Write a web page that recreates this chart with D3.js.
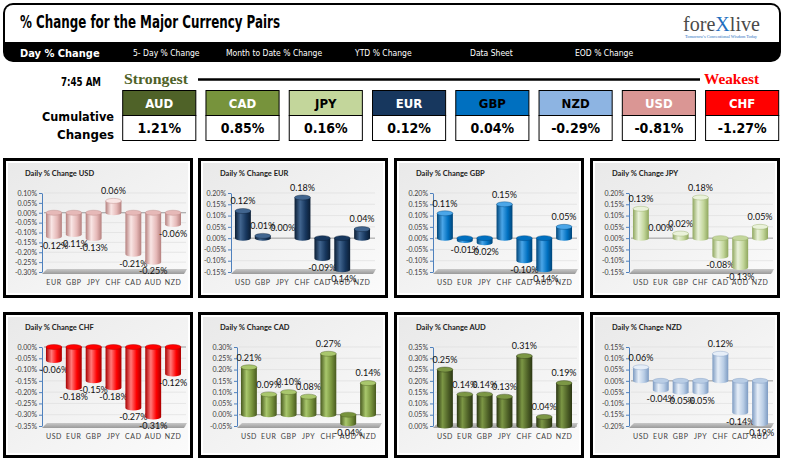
<!DOCTYPE html>
<html>
<head>
<meta charset="utf-8">
<script src="https://cdn.jsdelivr.net/npm/d3@7"></script>
<style>
  body { margin: 0; background: #fff; }
</style>
</head>
<body>
<div id="chart"></div>
<script>
// ---- data ----
const navLabels = ["Day % Change", "5- Day % Change", "Month to Date % Change", "YTD % Change", "Data Sheet", "EOD % Change"];
const navX = [20, 133, 226, 355, 470, 575];

const rankCurrencies = ["AUD", "CAD", "JPY", "EUR", "GBP", "NZD", "USD", "CHF"];
const rankValues = [1.21, 0.85, 0.16, 0.12, 0.04, -0.29, -0.81, -1.27];

const allCurrencies = ["USD", "EUR", "GBP", "JPY", "CHF", "CAD", "AUD", "NZD"];
const panelCurrencies = ["USD", "EUR", "GBP", "JPY", "CHF", "CAD", "AUD", "NZD"];

const usdChange = [-0.12, -0.11, -0.13, 0.06, -0.21, -0.25, -0.06];
const eurChange = [0.12, 0.01, 0.00, 0.18, -0.09, -0.14, 0.04];
const gbpChange = [0.11, -0.01, -0.02, 0.15, -0.10, -0.14, 0.05];
const jpyChange = [0.13, 0.00, 0.02, 0.18, -0.08, -0.13, 0.05];
const chfChange = [-0.06, -0.18, -0.15, -0.18, -0.27, -0.31, -0.12];
const cadChange = [0.21, 0.09, 0.10, 0.08, 0.27, -0.04, 0.14];
const audChange = [0.25, 0.14, 0.14, 0.13, 0.31, 0.04, 0.19];
const nzdChange = [0.06, -0.04, -0.05, -0.05, 0.12, -0.14, -0.19];
const panelValues = [usdChange, eurChange, gbpChange, jpyChange, chfChange, cadChange, audChange, nzdChange];

// axis extents (percent) for each panel
const axisMin = [-0.30, -0.15, -0.15, -0.15, -0.35, -0.05, 0.00, -0.20];
const axisMax = [0.10, 0.20, 0.20, 0.20, 0.00, 0.30, 0.35, 0.15];

// ---- styles ----
const headFill = ["#4f6228", "#77933c", "#c3d69b", "#17375e", "#0070c0", "#8db4e2", "#da9694", "#ff0000"];
const headText = ["#fff", "#fff", "#000", "#fff", "#000", "#000", "#fff", "#fff"];
// base, light, dark
const barColors = [
  ["#e6b9b8", "#f9e6e5", "#b5807e"],
  ["#17375e", "#41658f", "#0b1d33"],
  ["#0070c0", "#4ba6e8", "#004578"],
  ["#c3d69b", "#eaf2da", "#8fa75e"],
  ["#ff0000", "#ff7a7a", "#a80000"],
  ["#77933c", "#a9c76d", "#48591f"],
  ["#4f6228", "#7c9745", "#2b3613"],
  ["#b9cde5", "#e6eef8", "#7d9bc2"]
];

const condensed = "'Liberation Sans Narrow', 'DejaVu Sans Condensed', 'DejaVu Sans', sans-serif";
const panelFont = "Lato, 'Open Sans', sans-serif";

// plain hyphen for negatives, like the source sheet
const pctFmt = v => v.toFixed(2);

const svg = d3.select("#chart")
  .append("svg")
  .attr("width", 785)
  .attr("height", 462);

const defs = svg.append("defs");

// ---- header frame ----
svg.append("rect")
  .attr("x", 3).attr("y", 3).attr("width", 778).attr("height", 59)
  .attr("rx", 10).attr("fill", "#000");
svg.append("rect")
  .attr("x", 5).attr("y", 5).attr("width", 774).attr("height", 45)
  .attr("rx", 8).attr("fill", "#fff");
svg.append("rect")
  .attr("x", 5).attr("y", 42).attr("width", 774).attr("height", 10)
  .attr("fill", "#000");

svg.append("text")
  .attr("x", 20).attr("y", 28)
  .attr("textLength", 260).attr("lengthAdjust", "spacingAndGlyphs")
  .style("font-family", condensed).style("font-weight", "bold").style("font-size", "18px")
  .text("% Change for the Major Currency Pairs");

// logo
const logo = svg.append("text")
  .attr("x", 683).attr("y", 31)
  .attr("textLength", 77).attr("lengthAdjust", "spacingAndGlyphs")
  .style("font-family", "'Liberation Serif', 'DejaVu Serif', serif").style("font-size", "22px")
  .attr("fill", "#4a4a4a");
logo.append("tspan").text("fore");
logo.append("tspan").attr("fill", "#1f6fc0").text("X");
logo.append("tspan").text("live");
svg.append("text")
  .attr("x", 685).attr("y", 38)
  .attr("textLength", 72).attr("lengthAdjust", "spacingAndGlyphs")
  .style("font-family", "'Liberation Serif', serif").style("font-size", "4px")
  .attr("fill", "#1f6fc0")
  .text("Tomorrow's Conventional Wisdom Today");

// nav bar labels
navLabels.forEach((label, i) => {
  svg.append("text")
    .attr("x", navX[i]).attr("y", i === 0 ? 57 : 56)
    .attr("fill", "#fff")
    .style("font-family", condensed)
    .style("font-size", i === 0 ? "11px" : "8.5px")
    .style("font-weight", i === 0 ? "bold" : "normal")
    .style("font-stretch", "condensed")
    .text(label);
});

// ---- strongest / weakest row ----
svg.append("text")
  .attr("x", 61).attr("y", 86)
  .attr("textLength", 40).attr("lengthAdjust", "spacingAndGlyphs")
  .style("font-family", condensed).style("font-weight", "bold").style("font-size", "13px")
  .text("7:45 AM");

svg.append("text")
  .attr("x", 124).attr("y", 84)
  .attr("textLength", 64).attr("lengthAdjust", "spacingAndGlyphs")
  .style("font-family", "'Liberation Serif', 'DejaVu Serif', serif").style("font-weight", "bold").style("font-size", "14px")
  .attr("fill", "#4f6228")
  .text("Strongest");

svg.append("text")
  .attr("x", 704).attr("y", 84)
  .attr("textLength", 55).attr("lengthAdjust", "spacingAndGlyphs")
  .style("font-family", "'Liberation Serif', 'DejaVu Serif', serif").style("font-weight", "bold").style("font-size", "14px")
  .attr("fill", "#ff0000")
  .text("Weakest");

svg.append("line")
  .attr("x1", 198).attr("x2", 700)
  .attr("y1", 79.5).attr("y2", 79.5)
  .attr("stroke", "#000").attr("stroke-width", 2.5);

svg.append("text")
  .attr("x", 114).attr("y", 121)
  .attr("text-anchor", "end")
  .attr("textLength", 72).attr("lengthAdjust", "spacingAndGlyphs")
  .style("font-family", "'DejaVu Sans', sans-serif").style("font-weight", "bold").style("font-size", "12px")
  .text("Cumulative");
svg.append("text")
  .attr("x", 114).attr("y", 139)
  .attr("text-anchor", "end")
  .attr("textLength", 57).attr("lengthAdjust", "spacingAndGlyphs")
  .style("font-family", "'DejaVu Sans', sans-serif").style("font-weight", "bold").style("font-size", "12px")
  .text("Changes");

const rankX = d3.scaleBand()
  .domain(rankCurrencies)
  .range([122.7, 122.7 + 82 * 8])
  .paddingInner(10 / 82)
  .paddingOuter(0);

rankCurrencies.forEach((cur, i) => {
  const x = rankX(cur), w = rankX.bandwidth();
  svg.append("rect")
    .attr("x", x).attr("y", 90.5).attr("width", w).attr("height", 25)
    .attr("fill", headFill[i]).attr("stroke", "#000").attr("stroke-width", 1);
  svg.append("rect")
    .attr("x", x).attr("y", 115.5).attr("width", w).attr("height", 25)
    .attr("fill", "#fff").attr("stroke", "#000").attr("stroke-width", 1);
  svg.append("text")
    .attr("x", x + w / 2).attr("y", 108)
    .attr("text-anchor", "middle")
    .attr("fill", headText[i])
    .style("font-family", condensed).style("font-weight", "bold").style("font-size", "13px")
    .style("font-stretch", "condensed")
    .text(cur);
  svg.append("text")
    .attr("x", x + w / 2).attr("y", 133)
    .attr("text-anchor", "middle")
    .style("font-family", condensed).style("font-weight", "bold").style("font-size", "14px")
    .style("font-stretch", "condensed")
    .text(pctFmt(rankValues[i]) + "%");
});

// ---- daily change panels ----
const panelX = [3, 198, 394, 590];
const panelY = [158, 312];
const panelH = [140, 146];
const panelW = 190;
const panelShift = [0, -6, 0, 0, 0, 0, 0, 0];

const bgGrad = defs.append("linearGradient")
  .attr("id", "panelBg").attr("x1", 0).attr("y1", 0).attr("x2", 1).attr("y2", 1);
bgGrad.append("stop").attr("offset", "0%").attr("stop-color", "#e9e9e9");
bgGrad.append("stop").attr("offset", "100%").attr("stop-color", "#fbfbfb");

const floorGrad = defs.append("linearGradient")
  .attr("id", "floorGrad").attr("x1", 0).attr("y1", 0).attr("x2", 0).attr("y2", 1);
floorGrad.append("stop").attr("offset", "0%").attr("stop-color", "#c8c8c8");
floorGrad.append("stop").attr("offset", "100%").attr("stop-color", "#9a9a9a");

panelCurrencies.forEach((name, p) => {
  const col = p % 4, row = Math.floor(p / 4);
  const px = panelX[col], py = panelY[row], ph = panelH[row];
  const sx = px + panelShift[p];
  const cats = allCurrencies.filter(c => c !== name);
  const values = panelValues[p];
  const [base, light, dark] = barColors[p];

  const grad = defs.append("linearGradient")
    .attr("id", "bar" + p).attr("x1", 0).attr("y1", 0).attr("x2", 1).attr("y2", 0);
  grad.append("stop").attr("offset", "0%").attr("stop-color", dark);
  grad.append("stop").attr("offset", "35%").attr("stop-color", light);
  grad.append("stop").attr("offset", "70%").attr("stop-color", base);
  grad.append("stop").attr("offset", "100%").attr("stop-color", dark);

  const g = svg.append("g");

  // frame
  g.append("rect")
    .attr("x", px + 1.5).attr("y", py + 1.5)
    .attr("width", panelW - 3).attr("height", ph - 3)
    .attr("fill", "#fff").attr("stroke", "#000").attr("stroke-width", 3);
  g.append("rect")
    .attr("x", px + 5).attr("y", py + 5)
    .attr("width", panelW - 10).attr("height", ph - 10)
    .attr("fill", "url(#panelBg)");

  g.append("text")
    .attr("x", px + 22).attr("y", py + 18)
    .attr("fill", "#222")
    .style("font-family", panelFont).style("font-weight", "bold").style("font-size", "7.5px")
    .text("Daily % Change " + name);

  const x = d3.scaleBand()
    .domain(cats)
    .range([sx + 41, sx + 180])
    .paddingInner(0.2)
    .paddingOuter(0.1);

  const y = d3.scaleLinear()
    .domain([axisMin[p], axisMax[p]])
    .range([py + 114, py + 35]);

  const ticks = d3.range(Math.round(axisMin[p] * 100), Math.round(axisMax[p] * 100) + 1, 5).map(v => v / 100);

  // gridlines
  g.selectAll(".grid")
    .data(ticks)
    .enter()
    .append("line")
    .attr("x1", sx + 41).attr("x2", sx + 183)
    .attr("y1", d => y(d)).attr("y2", d => y(d))
    .attr("stroke", d => d === 0 ? "#9a9a9a" : "#dedede")
    .attr("stroke-width", d => d === 0 ? 1 : 0.7);

  // floor
  const yb = y(axisMin[p]);
  g.append("polygon")
    .attr("points", [
      [sx + 44, yb - 3], [sx + 184, yb - 3], [sx + 181, yb + 2], [sx + 39, yb + 2]
    ].map(d => d.join(",")).join(" "))
    .attr("fill", "url(#floorGrad)");

  // y axis
  const yAxis = g.append("g")
    .attr("transform", `translate(${sx + 39}, 0)`)
    .call(d3.axisLeft(y)
      .tickValues(ticks)
      .tickFormat(d => pctFmt(d) + "%")
      .tickSize(3)
      .tickSizeOuter(0));
  yAxis.select(".domain").attr("stroke", "#4f81bd").attr("stroke-width", 1);
  yAxis.selectAll(".tick line").attr("stroke", "#4f81bd");
  yAxis.selectAll(".tick text")
    .attr("fill", "#404040")
    .attr("x", -5)
    .style("font-family", panelFont).style("font-size", "7px");

  // x labels
  const xAxis = g.append("g")
    .attr("transform", `translate(0, ${py + 119})`)
    .call(d3.axisBottom(x).tickSize(0));
  xAxis.select(".domain").remove();
  xAxis.selectAll(".tick text")
    .attr("fill", "#404040")
    .style("font-family", panelFont).style("font-size", "7px")
    .style("letter-spacing", "0.6px");

  // cylinders
  const bw = x.bandwidth();
  const ry = 2.5;
  cats.forEach((c, i) => {
    const v = values[i];
    const cx = x(c) + bw / 2;
    const y0 = y(0), y1 = y(v);
    if (v !== 0) {
      const top = Math.min(y0, y1), bot = Math.max(y0, y1);
      g.append("path")
        .attr("d", `M${cx - bw / 2},${top} L${cx - bw / 2},${bot} A${bw / 2},${ry} 0 0 0 ${cx + bw / 2},${bot} L${cx + bw / 2},${top} Z`)
        .attr("fill", `url(#bar${p})`);
      g.append("ellipse")
        .attr("cx", cx).attr("cy", top)
        .attr("rx", bw / 2).attr("ry", ry)
        .attr("fill", v > 0 ? light : base)
        .attr("stroke", dark).attr("stroke-width", 0.4);
    }
    g.append("text")
      .attr("x", cx)
      .attr("y", v >= 0 ? y1 - 9 : y1 + 10)
      .attr("text-anchor", "middle")
      .attr("dominant-baseline", "middle")
      .attr("fill", "#111")
      .style("font-family", panelFont).style("font-size", "9px")
      .text(pctFmt(v) + "%");
  });
});
</script>
</body>
</html>
